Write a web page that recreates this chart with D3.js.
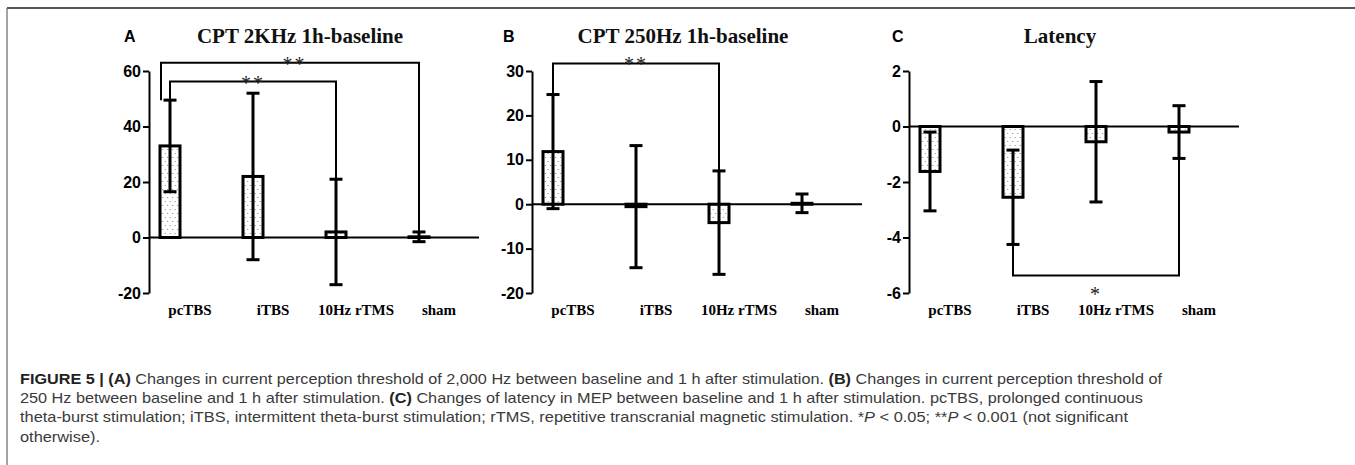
<!DOCTYPE html>
<html>
<head>
<meta charset="utf-8">
<script src="https://cdn.jsdelivr.net/npm/d3@7"></script>
<style>
  body { margin: 0; background: #fff; }
  svg { display: block; }
</style>
</head>
<body>
<svg id="fig" width="1355" height="465"></svg>
<script>
// --- data
const categories = ["pcTBS", "iTBS", "10Hz rTMS", "sham"];

const cpt2kMean = [33, 22, 2, 0.25];
const cpt2kErr  = [16.5, 30, 19, 1.75];
const cpt2kTicks = [-20, 0, 20, 40, 60];

const cpt250Mean = [11.85, -0.55, -4.15, 0.2];
const cpt250Err  = [12.85, 13.75, 11.65, 2.1];
const cpt250Ticks = [-20, -10, 0, 10, 20, 30];

const latencyMean = [-1.62, -2.55, -0.55, -0.2];
const latencyErr  = [1.42, 1.7, 2.17, 0.95];
const latencyTicks = [-6, -4, -2, 0, 2];

// brackets: [from index, to index, level, text]
const cpt2kBrackets = [[0, 3, 63, "**"], [0, 2, 56.2, "**"]];
const cpt250Brackets = [[0, 2, 31.7, "**"]];
const latencyBrackets = [[1, 3, -5.37, "*"]];

const captionLines = [
  [["FIGURE 5 | (A)", "b"], [" Changes in current perception threshold of 2,000 Hz between baseline and 1 h after stimulation. ", ""], ["(B)", "b"], [" Changes in current perception threshold of", ""]],
  [["250 Hz between baseline and 1 h after stimulation. ", ""], ["(C)", "b"], [" Changes of latency in MEP between baseline and 1 h after stimulation. pcTBS, prolonged continuous", ""]],
  [["theta-burst stimulation; iTBS, intermittent theta-burst stimulation; rTMS, repetitive transcranial magnetic stimulation. *", ""], ["P", "i"], [" < 0.05; **", ""], ["P", "i"], [" < 0.001 (not significant", ""]],
  [["otherwise).", ""]]
];
const captionWidths = [1142, 1123, 1108, 80];

// --- layout
const panels = [
  {letter: "A", title: "CPT 2KHz 1h-baseline", axisX: 149, letterX: 124, mean: cpt2kMean, err: cpt2kErr, ticks: cpt2kTicks, brackets: cpt2kBrackets, below: false},
  {letter: "B", title: "CPT 250Hz 1h-baseline", axisX: 532, letterX: 503, mean: cpt250Mean, err: cpt250Err, ticks: cpt250Ticks, brackets: cpt250Brackets, below: false},
  {letter: "C", title: "Latency", axisX: 909, letterX: 892, mean: latencyMean, err: latencyErr, ticks: latencyTicks, brackets: latencyBrackets, below: true}
];
const yTop = 71, yBottom = 293;
const serif = "'Liberation Serif', 'Times New Roman', serif";
const sans = "'Liberation Sans', Arial, sans-serif";

let svg = d3.select("#fig");

// dotted fill
let pat = svg.append("defs").append("pattern")
  .attr("id", "dots")
  .attr("patternUnits", "userSpaceOnUse")
  .attr("width", 5).attr("height", 8);
pat.append("rect").attr("width", 5).attr("height", 8).attr("fill", "#fff");
pat.append("circle").attr("cx", 1.2).attr("cy", 1.5).attr("r", 0.55).attr("fill", "#777");
pat.append("circle").attr("cx", 3.7).attr("cy", 5.5).attr("r", 0.55).attr("fill", "#777");

// frame (top + left edge of the figure box)
svg.append("line").attr("x1", 7).attr("x2", 1355).attr("y1", 8).attr("y2", 8)
  .attr("stroke", "#555").attr("stroke-width", 2);
svg.append("line").attr("x1", 7).attr("x2", 7).attr("y1", 8).attr("y2", 465)
  .attr("stroke", "#666").attr("stroke-width", 1.2);

panels.forEach(function(p) {
  let g = svg.append("g").attr("transform", "translate(" + p.axisX + ",0)");

  let y = d3.scaleLinear()
    .domain([p.ticks[0], p.ticks[p.ticks.length - 1]])
    .range([yBottom, yTop]);
  let x = d3.scalePoint()
    .domain(categories)
    .range([21, 270]);

  // panel letter + title
  svg.append("text").attr("x", p.letterX).attr("y", 42)
    .style("font-family", sans).style("font-weight", "bold").style("font-size", "16px")
    .text(p.letter);
  g.append("text").attr("x", 151).attr("y", 43)
    .attr("text-anchor", "middle")
    .style("font-family", serif).style("font-weight", "bold").style("font-size", "21px")
    .attr("fill", "#111")
    .text(p.title);

  // y axis
  let yAxis = g.append("g")
    .call(d3.axisLeft(y).tickValues(p.ticks).tickSize(6).tickPadding(2).tickSizeOuter(0)
      .tickFormat(function(d) { return String(d); }));
  yAxis.select(".domain").attr("stroke-width", 2);
  yAxis.selectAll(".tick line").attr("stroke-width", 2);
  yAxis.selectAll(".tick text")
    .style("font-family", sans).style("font-weight", "bold").style("font-size", "16px")
    .attr("fill", "#000");

  // bars
  g.append("g").selectAll("rect")
    .data(p.mean)
    .enter()
    .append("rect")
    .attr("x", function(d, i) { return x(categories[i]) - 10; })
    .attr("width", 20)
    .attr("y", function(d) { return Math.min(y(d), y(0)); })
    .attr("height", function(d) { return Math.abs(y(d) - y(0)); })
    .attr("fill", "url(#dots)")
    .attr("stroke", "#000")
    .attr("stroke-width", 3);

  // zero line
  g.append("line").attr("x1", 0).attr("x2", 330)
    .attr("y1", y(0)).attr("y2", y(0))
    .attr("stroke", "#000").attr("stroke-width", 2);

  // error bars
  let eb = g.append("g").attr("stroke", "#000").attr("stroke-width", 3);
  p.mean.forEach(function(m, i) {
    let cx = x(categories[i]);
    let hi = y(m + p.err[i]), lo = y(m - p.err[i]);
    eb.append("line").attr("x1", cx).attr("x2", cx).attr("y1", hi).attr("y2", lo);
    eb.append("line").attr("x1", cx - 6.5).attr("x2", cx + 6.5).attr("y1", hi).attr("y2", hi);
    eb.append("line").attr("x1", cx - 6.5).attr("x2", cx + 6.5).attr("y1", lo).attr("y2", lo);
  });

  // significance brackets
  p.brackets.forEach(function(b, k) {
    let x1 = x(categories[b[0]]), x2 = x(categories[b[1]]);
    let mid = (x1 + x2) / 2;
    if (!p.below && k === 0 && p.brackets.length > 1) x1 -= 9; // outer arm sits left of the inner one
    let sgn = p.below ? -1 : 1;
    let e1 = y(p.mean[b[0]] + sgn * p.err[b[0]]);
    let e2 = y(p.mean[b[1]] + sgn * p.err[b[1]]);
    let ly = y(b[2]);
    g.append("path")
      .attr("d", "M" + x1 + "," + e1 + "V" + ly + "H" + x2 + "V" + e2)
      .attr("fill", "none").attr("stroke", "#000").attr("stroke-width", 2);
    g.append("text")
      .attr("x", mid).attr("y", p.below ? ly + 25 : ly + 8)
      .attr("text-anchor", "middle")
      .style("font-family", serif).style("font-size", "20px")
      .attr("letter-spacing", 2)
      .attr("fill", "#222")
      .text(b[3]);
  });

  // category labels
  g.append("g").selectAll("text")
    .data(categories)
    .enter()
    .append("text")
    .attr("x", function(d) { return x(d) + 20; })
    .attr("y", 315)
    .attr("text-anchor", "middle")
    .style("font-family", serif).style("font-weight", "bold").style("font-size", "15px")
    .text(function(d) { return d; });
});

// caption
captionLines.forEach(function(line, i) {
  let t = svg.append("text")
    .attr("x", 20).attr("y", 384 + i * 19.2)
    .style("font-family", sans).style("font-size", "15px")
    .attr("fill", "#3a3a3a");
  if (captionWidths[i]) t.attr("textLength", captionWidths[i]).attr("lengthAdjust", "spacingAndGlyphs");
  line.forEach(function(seg) {
    t.append("tspan")
      .style("font-weight", seg[1] === "b" ? "bold" : null)
      .style("font-style", seg[1] === "i" ? "italic" : null)
      .attr("fill", seg[1] === "b" ? "#222" : null)
      .text(seg[0]);
  });
});
</script>
</body>
</html>
